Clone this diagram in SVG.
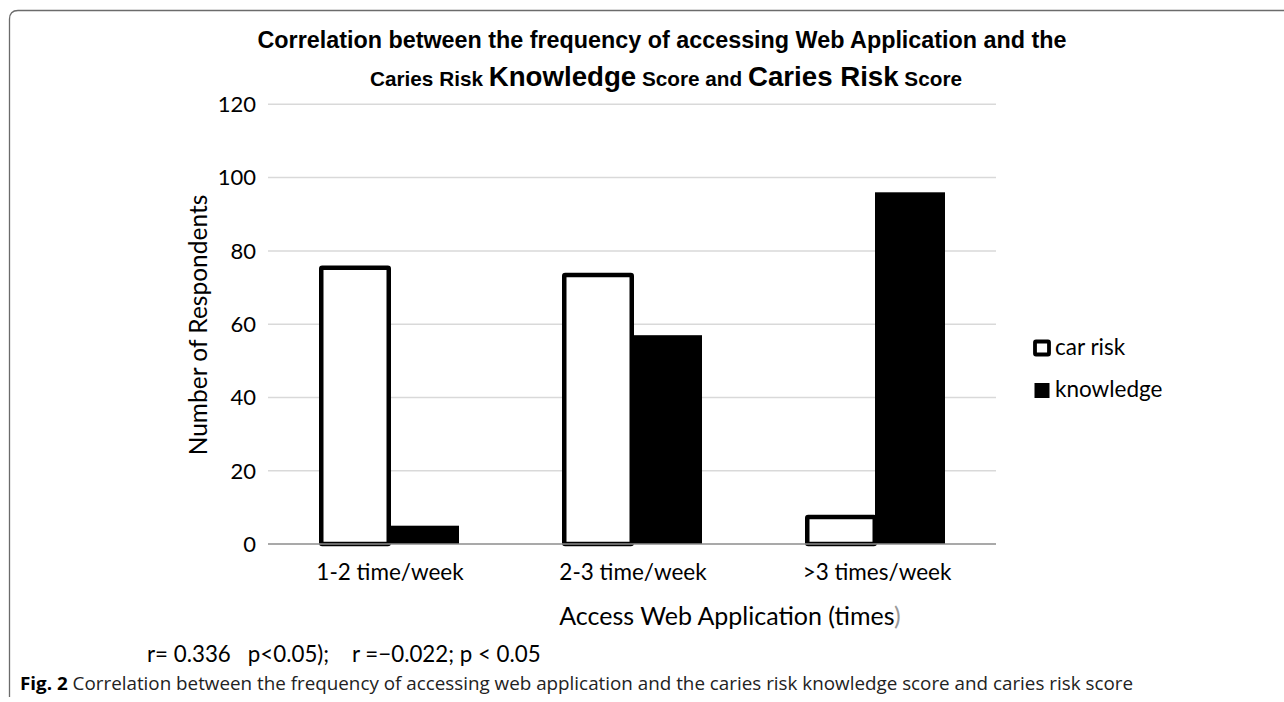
<svg xmlns="http://www.w3.org/2000/svg" width="1284" height="702" viewBox="0 0 1284 702">
<style>
.t{font-family:Lato,"Liberation Sans",sans-serif;fill:#000}
.tk{font-size:22px;text-anchor:end}
.xl{font-size:22.5px;text-anchor:middle}
.grid{stroke:#d9d9d9;stroke-width:1.5}
.car{fill:#fff;stroke:#000;stroke-width:4.5}
.kn{fill:#000}
.ttl{font-family:"Liberation Sans",Arial,sans-serif;font-weight:bold;fill:#000}
.cap{font-family:"Open Sans","Noto Sans",sans-serif;font-size:18px;fill:#222}
</style>
<rect width="1284" height="702" fill="#fff"/>
<g id="frame">
<path d="M9.5 697 L9.5 19 Q9.5 10.5 18 10.5 L1284 10.5" fill="none" stroke="#6b6b6b" stroke-width="1.3"/>
</g>
<g id="title">
<text class="ttl" x="662" y="48" font-size="23.5" text-anchor="middle" textLength="809" lengthAdjust="spacingAndGlyphs">Correlation between the frequency of accessing Web Application and the</text>
<text class="ttl" x="666" y="86" font-size="21" text-anchor="middle" textLength="592" lengthAdjust="spacingAndGlyphs">Caries Risk <tspan font-size="28">Knowledge</tspan> Score and <tspan font-size="28">Caries Risk</tspan> Score</text>
</g>
<g id="gridlines">
<line class="grid" x1="268" y1="104.3" x2="996" y2="104.3"/>
<line class="grid" x1="268" y1="177.6" x2="996" y2="177.6"/>
<line class="grid" x1="268" y1="250.9" x2="996" y2="250.9"/>
<line class="grid" x1="268" y1="324.2" x2="996" y2="324.2"/>
<line class="grid" x1="268" y1="397.5" x2="996" y2="397.5"/>
<line class="grid" x1="268" y1="470.8" x2="996" y2="470.8"/>
</g>
<g id="y-ticks">
<text class="t tk" x="256" y="112">120</text>
<text class="t tk" x="256" y="185.3">100</text>
<text class="t tk" x="256" y="258.6">80</text>
<text class="t tk" x="256" y="331.9">60</text>
<text class="t tk" x="256" y="405.2">40</text>
<text class="t tk" x="256" y="478.5">20</text>
<text class="t tk" x="256" y="551.7">0</text>
</g>
<g id="bars">
<rect class="kn" x="389" y="525.7" width="70" height="18.3"/>
<rect class="kn" x="632" y="335.2" width="70" height="208.8"/>
<rect class="kn" x="875" y="192.3" width="70" height="351.7"/>
<rect class="car" x="321.25" y="267.7" width="67.5" height="276.3" rx="1"/>
<rect class="car" x="564.25" y="275.1" width="67.5" height="268.9" rx="1"/>
<rect class="car" x="807.25" y="516.9" width="67.5" height="27.1" rx="1"/>
</g>
<g id="axis">
<line x1="268" y1="544" x2="996" y2="544" stroke="#8c8c8c" stroke-width="1.5"/>
</g>
<g id="x-labels">
<text class="t xl" x="390" y="580">1-2 time/week</text>
<text class="t xl" x="633" y="580">2-3 time/week</text>
<text class="t xl" x="877" y="580">&gt;3 times/week</text>
<text class="t" x="730" y="625" font-size="25" text-anchor="middle">Access Web Application (times<tspan fill="#999">)</tspan></text>
</g>
<g id="y-title">
<text class="t" x="0" y="0" font-size="24.5" text-anchor="middle" transform="translate(207 325) rotate(-90)">Number of Respondents</text>
</g>
<g id="legend">
<rect x="1035" y="341.5" width="14" height="13" fill="#fff" stroke="#000" stroke-width="3.8" rx="1"/>
<text class="t" x="1055" y="355" font-size="22.5">car risk</text>
<rect x="1034.5" y="383" width="15" height="15" fill="#000"/>
<text class="t" x="1055" y="397" font-size="22.5">knowledge</text>
</g>
<g id="stats">
<text class="t" x="147" y="662" font-size="22.3" xml:space="preserve">r= 0.336   p&lt;0.05);    r =−0.022; p &lt; 0.05</text>
</g>
<g id="caption">
<text class="cap" x="20" y="690" textLength="1113" lengthAdjust="spacingAndGlyphs"><tspan font-weight="bold" fill="#000">Fig. 2</tspan>  Correlation between the frequency of accessing web application and the caries risk knowledge score and caries risk score</text>
</g>
</svg>
